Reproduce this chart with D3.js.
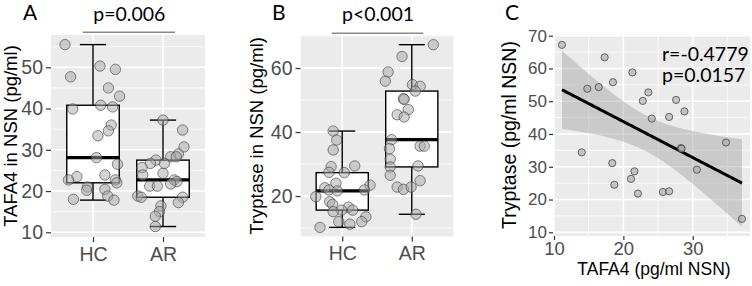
<!DOCTYPE html>
<html><head><meta charset="utf-8">
<script src="https://cdn.jsdelivr.net/npm/d3@7"></script>
<style>html,body{margin:0;padding:0;background:#fff;}svg{display:block;}</style>
</head><body><svg id="chart" width="752" height="286"></svg>
<script>
// ---------- data ----------
const categories = ["HC", "AR"];
// Panel A: TAFA4 in NSN (pg/ml)
const tafaHC = [55.5, 50.3, 49.5, 47.7, 45.0, 43.0, 39.9, 40.8, 40.4, 36.0, 34.6, 33.4, 28.1, 26.5, 23.5, 23.9, 22.7, 22.7, 22.0, 21.0, 20.2, 20.4, 18.8, 18.0, 17.8];
const tafaHCJitter = [-0.40, 0.10, 0.32, -0.32, 0.22, 0.38, -0.29, 0.11, 0.28, 0.26, 0.22, 0.07, 0.05, 0.35, -0.23, 0.17, -0.35, 0.32, 0.34, -0.08, -0.09, 0.17, 0.21, -0.28, 0.30];
const tafaAR = [37.2, 34.8, 30.7, 29.0, 28.3, 28.3, 27.5, 26.7, 26.7, 25.7, 23.9, 24.3, 22.7, 22.3, 21.7, 21.2, 21.2, 18.8, 18.5, 18.5, 17.2, 16.4, 15.0, 13.9, 11.4];
const tafaARJitter = [0.00, 0.28, 0.30, 0.22, 0.11, 0.19, -0.10, -0.18, 0.02, -0.30, -0.29, 0.00, 0.16, 0.20, 0.11, -0.19, -0.08, -0.36, -0.31, 0.28, 0.22, -0.03, -0.05, -0.11, -0.11];
// Panel B: Tryptase in NSN (pg/ml)
const tryHC = [40.3, 37.5, 34.4, 29.2, 29.4, 27.4, 27.3, 23.4, 24.0, 22.6, 21.9, 21.6, 21.9, 19.8, 18.2, 17.4, 16.5, 15.6, 15.6, 15.1, 13.5, 12.0, 12.0, 11.2, 10.2];
const tryHCJitter = [-0.13, -0.08, -0.13, -0.16, 0.18, -0.19, 0.03, 0.40, -0.09, -0.25, -0.19, -0.07, 0.32, -0.38, -0.18, -0.14, 0.09, -0.01, 0.15, -0.13, 0.34, 0.28, -0.05, 0.11, -0.32];
const tryAR = [67.3, 63.6, 58.75, 55.9, 54.8, 54.3, 52.8, 50.4, 50.2, 47.0, 45.4, 44.7, 37.6, 34.8, 35.6, 35.6, 31.5, 29.1, 29.4, 26.5, 24.8, 22.8, 22.1, 22.8, 14.3];
const tryARJitter = [0.31, -0.14, -0.34, -0.38, 0.01, 0.12, 0.05, -0.12, -0.11, -0.05, -0.21, -0.11, -0.29, -0.32, 0.12, 0.18, -0.31, -0.31, 0.09, -0.31, 0.12, -0.21, -0.12, -0.01, 0.06];
// Panel C: AR patients, TAFA4 vs Tryptase
const corrTafa = [11.15, 17.3, 21.3, 18.5, 14.8, 16.45, 23.6, 22.8, 27.6, 28.8, 26.6, 24.1, 14.0, 28.3, 28.4, 34.8, 18.4, 30.6, 21.6, 21.1, 18.7, 22.1, 25.7, 26.6, 37.1];
const corrTry  = [67.2, 63.4, 58.8, 55.8, 53.8, 54.3, 52.7, 50.1, 50.4, 46.9, 45.2, 44.7, 34.4, 35.7, 35.5, 37.4, 31.1, 29.1, 28.6, 26.3, 24.5, 21.8, 22.3, 22.5, 14.1];
const ticksA = [10, 20, 30, 40, 50];
const ticksB = [20, 40, 60];
const ticksCx = [10, 20, 30];
const ticksCy = [10, 20, 30, 40, 50, 60, 70];
const pA = "p=0.006", pB = "p<0.001", rC = "r=-0.4779", pC = "p=0.0157";
const tCrit = 2.069; // t(0.975, df=23)

// ---------- drawing ----------
const svg = d3.select("#chart");
svg.append("rect").attr("width", 752).attr("height", 286).attr("fill", "#fff");
const AX = "'Liberation Sans', Arial, sans-serif";
const CAL = "Lato, 'Open Sans', sans-serif";

function minorOf(t, dom) {
  const step = t[1] - t[0];
  const out = [];
  for (let v = t[0] - step / 2; v <= dom[1]; v += step) if (v >= dom[0]) out.push(v);
  return out;
}

function panelBg(g, x, y) {
  const [x0, x1] = x.range(), [y0, y1] = y.range();
  g.append("rect").attr("x", x0).attr("y", y1).attr("width", x1 - x0).attr("height", y0 - y1).attr("fill", "#EBEBEB");
}
function hgrid(g, x, y, major, minor) {
  const [x0, x1] = x.range();
  g.selectAll(null).data(minor).join("line").attr("x1", x0).attr("x2", x1)
    .attr("y1", d => y(d)).attr("y2", d => y(d)).attr("stroke", "#fff").attr("stroke-width", 0.8);
  g.selectAll(null).data(major).join("line").attr("x1", x0).attr("x2", x1)
    .attr("y1", d => y(d)).attr("y2", d => y(d)).attr("stroke", "#fff").attr("stroke-width", 1.6);
}
function vgrid(g, x, y, major, minor) {
  const [y0, y1] = y.range();
  g.selectAll(null).data(minor).join("line").attr("y1", y0).attr("y2", y1)
    .attr("x1", d => x(d)).attr("x2", d => x(d)).attr("stroke", "#fff").attr("stroke-width", 0.8);
  g.selectAll(null).data(major).join("line").attr("y1", y0).attr("y2", y1)
    .attr("x1", d => x(d)).attr("x2", d => x(d)).attr("stroke", "#fff").attr("stroke-width", 1.6);
}
function styleAxis(sel, size) {
  sel.select(".domain").remove();
  sel.selectAll(".tick line").attr("stroke", "#333").attr("stroke-width", 1.2);
  sel.selectAll(".tick text").attr("fill", "#4D4D4D").attr("font-family", AX).attr("font-size", size);
}

function boxStats(v) {
  const s = v.slice().sort(d3.ascending);
  const q1 = d3.quantile(s, 0.25), med = d3.quantile(s, 0.5), q3 = d3.quantile(s, 0.75);
  const iqr = q3 - q1;
  const lo = d3.min(s.filter(d => d >= q1 - 1.5 * iqr));
  const hi = d3.max(s.filter(d => d <= q3 + 1.5 * iqr));
  return {q1, med, q3, lo, hi};
}

function boxPanel(opts) {
  const g = svg.append("g");
  const x = d3.scaleLinear().domain([0.4, 2.6]).range(opts.xr);
  const y = d3.scaleLinear().domain(opts.yd).range(opts.yr);
  panelBg(g, x, y);
  hgrid(g, x, y, opts.ticks, minorOf(opts.ticks, opts.yd));
  vgrid(g, x, y, [1, 2], []);
  opts.groups.forEach((grp, i) => {
    const c = i + 1;
    const st = boxStats(grp.v);
    const hw = 0.375, ew = 0.1875;
    g.append("line").attr("x1", x(c)).attr("x2", x(c)).attr("y1", y(st.q3)).attr("y2", y(st.hi)).attr("stroke", "#000").attr("stroke-width", 1.4);
    g.append("line").attr("x1", x(c)).attr("x2", x(c)).attr("y1", y(st.q1)).attr("y2", y(st.lo)).attr("stroke", "#000").attr("stroke-width", 1.4);
    g.append("line").attr("x1", x(c - ew)).attr("x2", x(c + ew)).attr("y1", y(st.hi)).attr("y2", y(st.hi)).attr("stroke", "#000").attr("stroke-width", 1.4);
    g.append("line").attr("x1", x(c - ew)).attr("x2", x(c + ew)).attr("y1", y(st.lo)).attr("y2", y(st.lo)).attr("stroke", "#000").attr("stroke-width", 1.4);
    g.append("rect").attr("x", x(c - hw)).attr("width", x(c + hw) - x(c - hw))
      .attr("y", y(st.q3)).attr("height", y(st.q1) - y(st.q3))
      .attr("fill", "#fff").attr("stroke", "#000").attr("stroke-width", 1.4);
    g.append("line").attr("x1", x(c - hw)).attr("x2", x(c + hw)).attr("y1", y(st.med)).attr("y2", y(st.med)).attr("stroke", "#000").attr("stroke-width", 3.2);
  });
  opts.groups.forEach((grp, i) => {
    const c = i + 1;
    g.selectAll(null).data(grp.v.map((v, k) => ({v, j: grp.j[k]}))).join("circle")
      .attr("cx", d => x(c + d.j)).attr("cy", d => y(d.v)).attr("r", 5.2)
      .attr("fill", "#a8a8a8").attr("fill-opacity", 0.5)
      .attr("stroke", "#3a3a3a").attr("stroke-opacity", 0.6).attr("stroke-width", 1);
  });
  const ya = g.append("g").attr("transform", `translate(${opts.xr[0]},0)`)
    .call(d3.axisLeft(y).tickValues(opts.ticks).tickSize(5).tickPadding(3).tickFormat(d3.format("d")));
  styleAxis(ya, "19.5px");
  const xa = g.append("g").attr("transform", `translate(0,${opts.yr[0]})`)
    .call(d3.axisBottom(x).tickValues([1, 2]).tickSize(5).tickPadding(5).tickFormat((d, i) => categories[i]));
  styleAxis(xa, "19.5px");
  g.append("text").attr("transform", `translate(${opts.titleX},${(opts.yr[0] + opts.yr[1]) / 2}) rotate(-90)`)
    .attr("text-anchor", "middle").attr("font-family", AX).attr("font-size", "18.5px").attr("fill", "#000").text(opts.title);
  g.append("line").attr("x1", opts.sig[0]).attr("x2", opts.sig[1]).attr("y1", opts.sig[2]).attr("y2", opts.sig[2])
    .attr("stroke", "#8a8a8a").attr("stroke-width", 1.6);
  g.append("text").attr("x", (opts.sig[0] + opts.sig[1]) / 2 + 0.5).attr("y", 21).attr("text-anchor", "middle")
    .attr("font-family", CAL).attr("font-size", "19.5px").attr("fill", "#000").text(opts.ptext);
  g.append("text").attr("x", opts.labelX).attr("y", 20).attr("font-family", CAL).attr("font-size", "21px").attr("fill", "#000").text(opts.label);
}

boxPanel({
  xr: [51, 205], yd: [8.86, 57.83], yr: [237, 35], ticks: ticksA,
  groups: [{v: tafaHC, j: tafaHCJitter}, {v: tafaAR, j: tafaARJitter}],
  title: "TAFA4 in NSN (pg/ml)", titleX: 17, sig: [82.7, 175, 32.3], ptext: pA, label: "A", labelX: 23
});
boxPanel({
  xr: [300.5, 453.5], yd: [7.35, 70.2], yr: [236.5, 35.4], ticks: ticksB,
  groups: [{v: tryHC, j: tryHCJitter}, {v: tryAR, j: tryARJitter}],
  title: "Tryptase in NSN (pg/ml)", titleX: 263, sig: [331.7, 423.3, 33.3], ptext: pB, label: "B", labelX: 272
});

// ---------- Panel C ----------
(function () {
  const g = svg.append("g");
  const x = d3.scaleLinear().domain([9.856, 38.26]).range([553, 750]);
  const y = d3.scaleLinear().domain([8.87, 70.3]).range([236, 34.7]);
  panelBg(g, x, y);
  hgrid(g, x, y, ticksCy, minorOf(ticksCy, y.domain()));
  vgrid(g, x, y, ticksCx, minorOf(ticksCx, x.domain()));
  // linear regression with 95% confidence band
  const n = corrTafa.length;
  const mx = d3.mean(corrTafa), my = d3.mean(corrTry);
  let sxx = 0, sxy = 0;
  for (let i = 0; i < n; i++) { sxx += (corrTafa[i] - mx) ** 2; sxy += (corrTafa[i] - mx) * (corrTry[i] - my); }
  const b = sxy / sxx, a = my - b * mx;
  let sse = 0;
  for (let i = 0; i < n; i++) sse += (corrTry[i] - (a + b * corrTafa[i])) ** 2;
  const s = Math.sqrt(sse / (n - 2));
  const [xmin, xmax] = d3.extent(corrTafa);
  const xs = d3.range(0, 81).map(k => xmin + (xmax - xmin) * k / 80);
  const band = xs.map(xv => {
    const f = a + b * xv, se = s * Math.sqrt(1 / n + (xv - mx) ** 2 / sxx);
    return {x: xv, lo: f - tCrit * se, hi: f + tCrit * se, f};
  });
  g.append("path").datum(band).attr("d", d3.area().x(d => x(d.x)).y0(d => y(d.lo)).y1(d => y(d.hi)))
    .attr("fill", "#999").attr("fill-opacity", 0.4);
  g.append("path").datum(band).attr("d", d3.line().x(d => x(d.x)).y(d => y(d.f)))
    .attr("fill", "none").attr("stroke", "#000").attr("stroke-width", 3);
  g.selectAll(null).data(corrTafa.map((v, i) => ({x: v, y: corrTry[i]}))).join("circle")
    .attr("cx", d => x(d.x)).attr("cy", d => y(d.y)).attr("r", 3.6)
    .attr("fill", "#a8a8a8").attr("fill-opacity", 0.6)
    .attr("stroke", "#333").attr("stroke-opacity", 0.7).attr("stroke-width", 1);
  const ya = g.append("g").attr("transform", "translate(553,0)")
    .call(d3.axisLeft(y).tickValues(ticksCy).tickSize(4).tickPadding(2).tickFormat(d3.format("d")));
  styleAxis(ya, "17px");
  const xa = g.append("g").attr("transform", "translate(0,236)")
    .call(d3.axisBottom(x).tickValues(ticksCx).tickSize(4).tickPadding(2).tickFormat(d3.format("d")));
  styleAxis(xa, "18.5px");
  g.append("text").attr("transform", `translate(516,135) rotate(-90)`).attr("text-anchor", "middle")
    .attr("font-family", AX).attr("font-size", "19.5px").attr("fill", "#000").text("Tryptase (pg/ml NSN)");
  g.append("text").attr("x", 654).attr("y", 275).attr("text-anchor", "middle")
    .attr("font-family", AX).attr("font-size", "17.5px").attr("fill", "#000").text("TAFA4 (pg/ml NSN)");
  g.append("text").attr("x", 662).attr("y", 61).attr("font-family", CAL).attr("font-size", "19.5px").attr("fill", "#000").text(rC);
  g.append("text").attr("x", 662).attr("y", 82).attr("font-family", CAL).attr("font-size", "19.5px").attr("fill", "#000").text(pC);
  g.append("text").attr("x", 505).attr("y", 20).attr("font-family", CAL).attr("font-size", "21px").attr("fill", "#000").text("C");
})();
</script></body></html>
